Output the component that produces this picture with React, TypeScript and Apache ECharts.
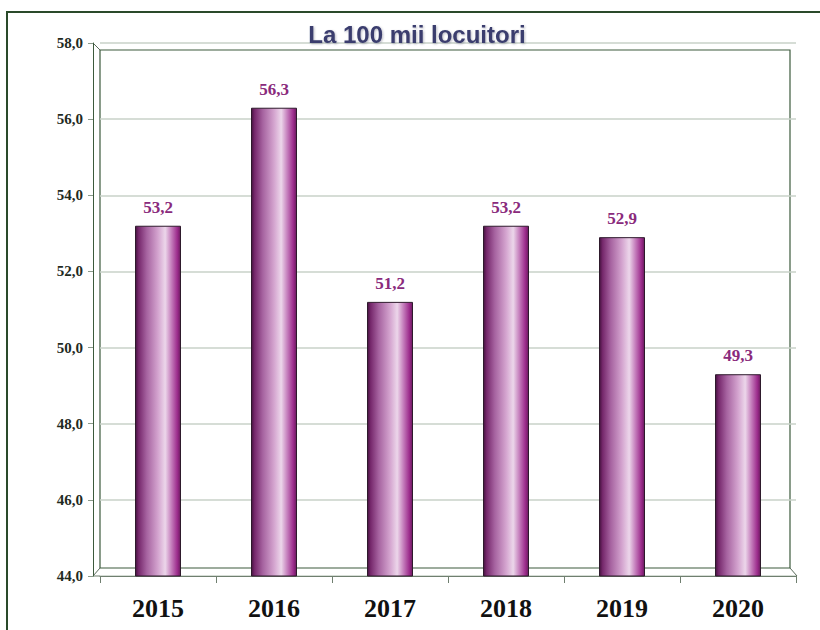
import React, { useEffect, useRef } from "react";
import * as echarts from "echarts";

const years = ["2015", "2016", "2017", "2018", "2019", "2020"];
const rates = [53.2, 56.3, 51.2, 53.2, 52.9, 49.3];
const yMin = 44;
const yMax = 58;
const yStep = 2;
const titleText = "La 100 mii locuitori";

const fmt = (v: number) => v.toFixed(1).replace(".", ",");

export default function App() {
  const ref = useRef<HTMLDivElement>(null);

  useEffect(() => {
    if (!ref.current) return;
    const chart = echarts.init(ref.current, undefined, { renderer: "svg" });

    const lineStyle = { stroke: "#5b6b5b", lineWidth: 1 };
    const wall = "#3d5a3d";

    const cylinderFill = new echarts.graphic.LinearGradient(0, 0, 1, 0, [
      { offset: 0, color: "#45123f" },
      { offset: 0.07, color: "#76286c" },
      { offset: 0.25, color: "#a663a0" },
      { offset: 0.5, color: "#d4a4cf" },
      { offset: 0.66, color: "#ecd6ea" },
      { offset: 0.8, color: "#c47cbb" },
      { offset: 0.93, color: "#9c2c8c" },
      { offset: 1, color: "#6a1a5e" },
    ]);

    chart.setOption({
      animation: false,
      backgroundColor: "#ffffff",
      title: {
        text: titleText,
        left: 412,
        textAlign: "center",
        top: 17,
        textStyle: {
          fontFamily: "'Liberation Sans', Arial, sans-serif",
          fontWeight: "bold",
          fontSize: 24,
          color: "#3a3d6e",
          textShadowColor: "rgba(60,60,90,0.35)",
          textShadowBlur: 2,
          textShadowOffsetX: 1,
          textShadowOffsetY: 1,
        },
      },
      grid: { left: 100, right: 24, top: 43, bottom: 54, containLabel: false },
      xAxis: {
        type: "category",
        data: years,
        axisLine: { show: true, lineStyle: { color: "#6f7f6f", width: 1 } },
        axisTick: {
          show: true,
          alignWithLabel: false,
          length: 7,
          lineStyle: { color: "#6f7f6f" },
        },
        axisLabel: {
          margin: 19,
          fontFamily: "'Liberation Serif', 'Times New Roman', serif",
          fontWeight: "bold",
          fontSize: 26,
          color: "#111111",
        },
      },
      yAxis: {
        type: "value",
        min: yMin,
        max: yMax,
        interval: yStep,
        offset: 7,
        axisLine: { show: true, lineStyle: { color: wall, width: 1 } },
        axisTick: { show: true, length: 5, lineStyle: { color: "#8a9a8a" } },
        axisLabel: {
          margin: 10,
          formatter: (v: number) => fmt(v),
          fontFamily: "'Liberation Serif', 'Times New Roman', serif",
          fontWeight: "bold",
          fontSize: 15,
          color: "#1f2b1f",
        },
        splitLine: { show: true, lineStyle: { color: "#c9d2c9", width: 1.5 } },
      },
      series: [
        {
          type: "bar",
          data: rates,
          barWidth: 46,
          itemStyle: {
            color: cylinderFill,
            borderColor: "#2e1a2c",
            borderWidth: 1,
          },
          label: {
            show: true,
            position: "top",
            distance: 10,
            formatter: (p: any) => fmt(p.value),
            fontFamily: "'Liberation Serif', 'Times New Roman', serif",
            fontWeight: "bold",
            fontSize: 17,
            color: "#8a2a7c",
          },
        },
      ],
      graphic: [
        // outer frame
        {
          type: "polyline",
          shape: { points: [[7, 640], [7, 12], [830, 12]] },
          style: { stroke: "#2a4a2a", lineWidth: 2, fill: "none" },
          silent: true,
        },
        // back wall outline
        {
          type: "polyline",
          shape: { points: [[100, 568], [100, 50], [790, 50], [790, 568]] },
          style: { stroke: wall, lineWidth: 1.2, fill: "none" },
          silent: true,
          z: -1,
        },
        {
          type: "line",
          shape: { x1: 93, y1: 43, x2: 100, y2: 50 },
          style: lineStyle,
          silent: true,
        },
        // floor
        {
          type: "line",
          shape: { x1: 100, y1: 568, x2: 790, y2: 568 },
          style: { stroke: wall, lineWidth: 1.2 },
          silent: true,
          z: -1,
        },
        {
          type: "line",
          shape: { x1: 93, y1: 576, x2: 100, y2: 568 },
          style: lineStyle,
          silent: true,
        },
        {
          type: "line",
          shape: { x1: 790, y1: 568, x2: 797, y2: 576 },
          style: lineStyle,
          silent: true,
        },
        {
          type: "line",
          shape: { x1: 93, y1: 576, x2: 100, y2: 576 },
          style: { stroke: "#6f7f6f", lineWidth: 1 },
          silent: true,
        },
      ],
    });

    return () => chart.dispose();
  }, []);

  return (
    <div
      ref={ref}
      style={{ position: "fixed", left: 0, top: 0, width: 820, height: 630 }}
    />
  );
}
